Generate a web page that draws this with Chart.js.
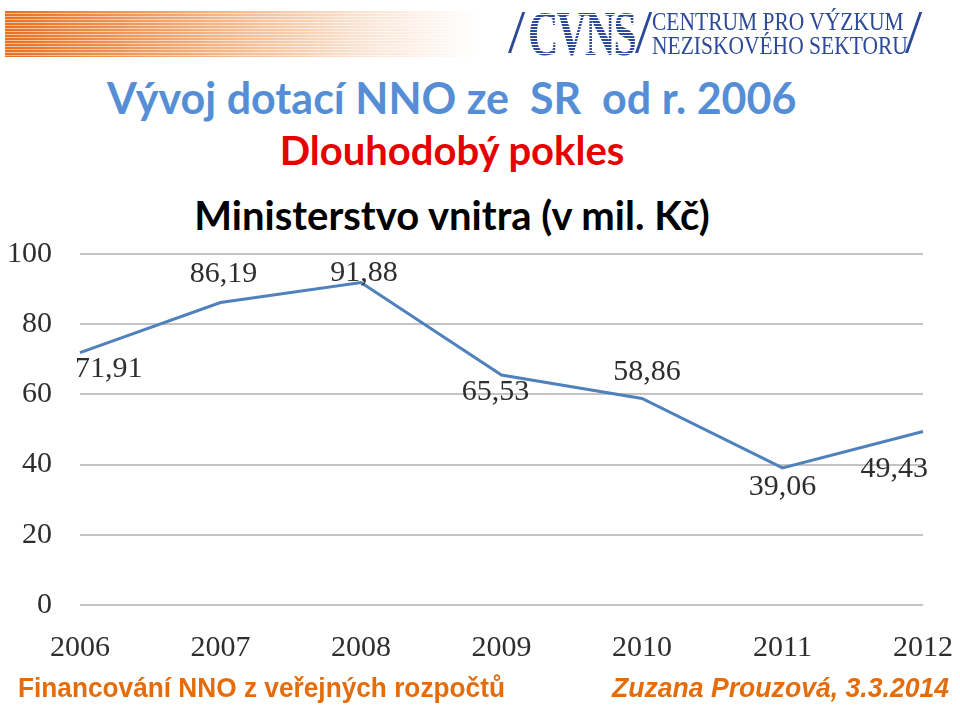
<!DOCTYPE html>
<html lang="cs">
<head>
    <meta charset="UTF-8">
    <title>Vývoj dotací NNO ze SR od r. 2006</title>
    <script src="https://cdn.jsdelivr.net/npm/chart.js"></script>
    <style>
        body { margin: 0; width: 960px; height: 705px; background: white; position: relative; overflow: hidden; font-family: Lato, "Open Sans", sans-serif; }
        .band { position: absolute; left: 5px; top: 11px; width: 472px; height: 46px;
            background: repeating-linear-gradient(to bottom, rgba(255,255,255,0) 0 2px, rgba(255,255,255,0.55) 2px 3px),
                        linear-gradient(to right, #e8701f, #f3b587 45%, #fbe3d2 75%, #ffffff 100%); }
        .logo { position: absolute; left: 508px; top: 6px; color: #2d4a98; }
        .slash { position: absolute; font-family: "Liberation Serif", serif; font-size: 62px; top: -10px; color: #2d4a98; }
        .cvns { position: absolute; left: 20px; top: -9px; font-family: "Liberation Serif", serif; font-weight: bold; font-size: 64px; letter-spacing: -3px;
            transform: scaleX(0.66); transform-origin: left top; line-height: 1.15;
            background: repeating-linear-gradient(to bottom, #2d4a98 0 2px, #ffffff 2px 3px); -webkit-background-clip: text; background-clip: text; color: transparent; }
        .lt { position: absolute; left: 144px; font-family: "Liberation Serif", serif; font-size: 25px; white-space: nowrap;
            transform: scaleX(0.86); transform-origin: left top; }
        h1 { position: absolute; margin: 0; left: 107px; top: 72px; font-size: 43px; color: #558ed5; font-weight: bold; white-space: pre; }
        h2 { position: absolute; margin: 0; left: 0; width: 904px; text-align: center; top: 126px; font-size: 40px; color: #e60000; font-weight: bold; }
        h3 { position: absolute; margin: 0; left: 0; width: 904px; text-align: center; top: 191px; font-size: 40px; color: #000; font-weight: bold; }
        .chart { position: absolute; left: 0; top: 240px; width: 960px; height: 420px; }
        .foot { position: absolute; top: 672px; font-family: "Liberation Sans", Arial, sans-serif; font-size: 28px; color: #e46c0a; font-weight: bold; white-space: nowrap; transform-origin: left top; }
    </style>
</head>
<body>
<div class="band"></div>
<div class="logo">
    <span class="slash" style="left:0">/</span>
    <span class="cvns">CVNS</span>
    <span class="slash" style="left:127px">/</span>
    <span class="lt" style="top:2px">CENTRUM PRO VÝZKUM</span>
    <span class="lt" style="top:26px">NEZISKOVÉHO SEKTORU</span>
    <span class="slash" style="left:397px">/</span>
</div>
<h1>Vývoj dotací NNO ze  SR  od r. 2006</h1>
<h2>Dlouhodobý pokles</h2>
<h3>Ministerstvo vnitra (v mil. Kč)</h3>
<div class="chart"><canvas id="vnitro" width="960" height="420"></canvas></div>
<div class="foot" style="left:18px; transform: scaleX(0.937)">Financování NNO z veřejných rozpočtů</div>
<div class="foot" style="left:612px; font-style: italic; transform: scaleX(0.95)">Zuzana Prouzová, 3.3.2014</div>

<script>
    const years = ['2006', '2007', '2008', '2009', '2010', '2011', '2012'];
    const dotace = [71.91, 86.19, 91.88, 65.53, 58.86, 39.06, 49.43];
    const yTicks = [0, 20, 40, 60, 80, 100];

    // where each value label sits relative to its point: [dx, dy, align]
    const labelPlace = [[-5, 24, 'left'], [3, -20, 'center'], [3, -2, 'center'], [-6, 25, 'center'],
                        [5, -18, 'center'], [0, 27, 'center'], [5, 45, 'right']];

    const axisFont = { family: '"Liberation Serif", serif', size: 30 };

    const valueLabels = {
        id: 'valueLabels',
        afterDatasetsDraw(chart) {
            const ctx = chart.ctx;
            const meta = chart.getDatasetMeta(0);
            ctx.save();
            ctx.font = '30px "Liberation Serif", serif';
            ctx.fillStyle = '#2e2e2e';
            ctx.textBaseline = 'alphabetic';
            meta.data.forEach((pt, i) => {
                const [dx, dy, align] = labelPlace[i];
                ctx.textAlign = align;
                ctx.fillText(dotace[i].toFixed(2).replace('.', ','), pt.x + dx, pt.y + dy);
            });
            ctx.restore();
        }
    };

    new Chart(document.getElementById('vnitro'), {
        type: 'line',
        data: {
            labels: years,
            datasets: [{
                data: dotace,
                borderColor: '#4f81bd',
                borderWidth: 3,
                pointRadius: 0,
                tension: 0
            }]
        },
        options: {
            responsive: false,
            animation: false,
            layout: { padding: { left: 0, right: 37, top: 14, bottom: 0 } },
            plugins: { legend: { display: false }, tooltip: { enabled: false } },
            scales: {
                x: {
                    offset: false,
                    grid: { display: false },
                    border: { display: false },
                    ticks: { color: '#2e2e2e', font: axisFont, padding: 17, maxRotation: 0 },
                    afterFit(axis) {
                        axis.height = 55;
                        axis.paddingLeft = 0;
                        axis.paddingRight = 0;
                    }
                },
                y: {
                    min: 0,
                    max: 100,
                    afterBuildTicks(axis) { axis.ticks = yTicks.map(v => ({ value: v })); },
                    grid: { color: '#c4c4c4', lineWidth: 2, drawTicks: false },
                    border: { display: false },
                    ticks: { color: '#2e2e2e', font: axisFont, padding: 28 },
                    afterFit(axis) {
                        axis.width = 80;
                        axis.paddingTop = 0;
                        axis.paddingBottom = 0;
                    }
                }
            }
        },
        plugins: [valueLabels]
    });
</script>
</body>
</html>
